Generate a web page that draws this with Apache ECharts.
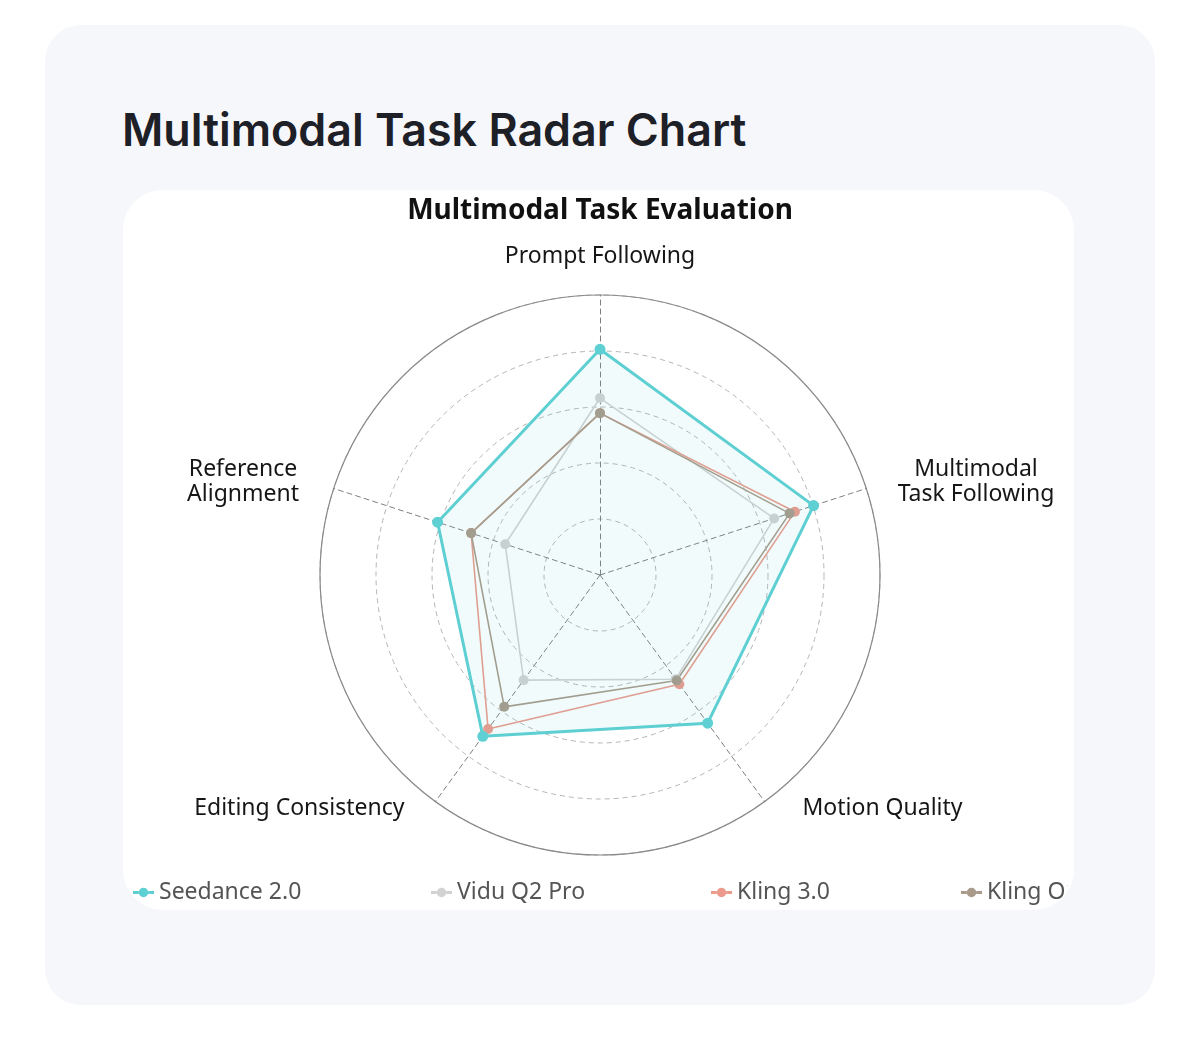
<!DOCTYPE html>
<html><head><meta charset="utf-8">
<script src="https://cdn.jsdelivr.net/npm/echarts@6/dist/echarts.min.js"></script>
<style>
html,body{margin:0;padding:0;background:#fff;width:1200px;height:1049px;overflow:hidden;}
#outer{position:absolute;left:45px;top:25px;width:1110px;height:980px;background:#f6f7fb;border-radius:36px;}
#title{position:absolute;left:122px;top:100px;font-family:Inter,sans-serif;font-weight:600;font-size:44.8px;color:#1d2026;line-height:60px;white-space:nowrap;}
#card{position:absolute;left:123px;top:190px;width:951px;height:720px;background:#fff;border-radius:40px;overflow:hidden;}
#clip{position:absolute;left:10px;top:0;width:935px;height:720px;overflow:hidden;}
#chart{position:absolute;left:-133px;top:-190px;width:1200px;height:1049px;}
</style></head>
<body>
<div id="outer"></div>
<div id="title">Multimodal Task Radar Chart</div>
<div id="card"><div id="clip"><div id="chart"></div></div></div>
<script>
// Indicators in ECharts order (counter-clockwise from top)
const indicators = ['Prompt Following', 'Reference Alignment', 'Editing Consistency', 'Motion Quality', 'Multimodal Task Following'];
const maxScore = 5;
const models = ['Seedance 2.0', 'Vidu Q2 Pro', 'Kling 3.0', 'Kling O1'];
const seedance = [4.03, 3.05, 3.56, 3.27, 4.01];
const viduQ2Pro = [3.16, 1.78, 2.32, 2.30, 3.27];
const kling30 = [2.89, 2.42, 3.40, 2.41, 3.66];
const klingO1 = [2.89, 2.42, 2.91, 2.33, 3.56];
const colors = {'Seedance 2.0':'#5ecfd2','Vidu Q2 Pro':'#d2d2d2','Kling 3.0':'#ec9a8c','Kling O1':'#a99a89'};

const labelFmt = {
  'Prompt Following': '{pf|Prompt Following}',
  'Reference Alignment': '{ra1|Reference}\n{ra2|Alignment}',
  'Editing Consistency': '{ec|Editing Consistency}',
  'Motion Quality': '{mq|Motion Quality}',
  'Multimodal Task Following': '{mt1|Multimodal}\n{mt2|Task Following}'
};
const FONT = "'Noto Sans'";
const base = {fontFamily:FONT, fontSize:23, color:'#161616'};
const rich = {
  pf: Object.assign({}, base),
  ra1: Object.assign({}, base, {width:118, align:'center', padding:[6,6,0,0], lineHeight:28}),
  ra2: Object.assign({}, base, {width:118, align:'center', padding:[0,6,0,0], lineHeight:28}),
  ec: Object.assign({}, base, {padding:[0,15,30,0]}),
  mq: Object.assign({}, base, {padding:[0,0,30,22]}),
  mt1: Object.assign({}, base, {width:168, align:'center', padding:[6,0,0,0], lineHeight:28}),
  mt2: Object.assign({}, base, {width:168, align:'center', lineHeight:28})
};

const ind = indicators.map(n => ({name:n, max:maxScore, min:0}));

function mk(name, vals, main){
  const c = colors[name];
  return {
    type:'radar', radarIndex:0, name:name,
    symbol:'circle', symbolSize: main ? 11 : 10,
    lineStyle:{color:c, width: main ? 3 : 1.6},
    itemStyle:{color:c},
    areaStyle: main ? {color:'rgba(94,207,210,0.12)'} : undefined,
    z: main ? 5 : 3,
    data:[{name:name, value:vals}]
  };
}

const legendIcon = 'path://M0,4H6V7H0Z M16,4H22V7H16Z M11,0.5A5,5 0 1,1 11,10.5A5,5 0 1,1 11,0.5Z';
const legendLefts = [128, 426, 706, 956];
const chart = echarts.init(document.getElementById('chart'));
chart.setOption({
  animation:false,
  title:{text:'Multimodal Task Evaluation', left:'center', top:192,
    textStyle:{fontFamily:FONT, fontWeight:'bold', fontSize:28, color:'#111'}},
  legend: models.map((m,i)=>({
    data:[m], left:legendLefts[i], top:876, itemWidth:21, itemHeight:11, itemGap:0,
    icon: legendIcon,
    textStyle:{fontFamily:FONT, fontSize:23, color:'#555'}
  })),
  radar:[{
    center:[600,575], radius:280, shape:'circle', splitNumber:5,
    indicator: ind, nameGap:27,
    axisName:{formatter:(n)=>labelFmt[n], rich:rich, color:'#161616', fontSize:23, fontFamily:FONT},
    splitLine:{lineStyle:{color:'#b4b4b4', type:[5,4], width:1}},
    splitArea:{show:false},
    axisLine:{lineStyle:{color:'#7e7e7e', type:[5,4], width:1}}
  },{
    center:[600,575], radius:280, shape:'circle', splitNumber:1,
    indicator: ind,
    axisName:{show:false},
    splitLine:{lineStyle:{color:'#8a8a8a', type:'solid', width:1.2}},
    splitArea:{show:false},
    axisLine:{show:false}, axisTick:{show:false}, axisLabel:{show:false}
  }],
  series:[
    mk('Vidu Q2 Pro', viduQ2Pro, false),
    mk('Kling 3.0', kling30, false),
    mk('Kling O1', klingO1, false),
    mk('Seedance 2.0', seedance, true)
  ]
});
</script>
</body></html>
